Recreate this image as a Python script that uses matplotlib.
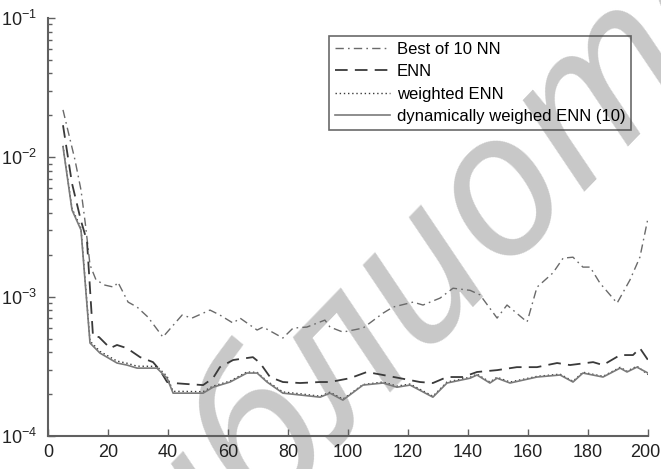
import numpy as np
import matplotlib
matplotlib.use("Agg")
import matplotlib.pyplot as plt
from matplotlib.transforms import ScaledTranslation

plt.rcParams["font.family"] = ["Liberation Sans", "DejaVu Sans"]
plt.rcParams["mathtext.default"] = "regular"

# Best of 10 NN
x_best = [5, 7, 9, 11, 12.5, 14, 16, 19, 22, 23.3, 26.7, 29.7, 33.3, 38.3, 44.7, 48, 54,
          57.3, 61.7, 64, 69.7, 71.7, 78.3, 81.7, 86.3, 92.3, 94, 98.3, 105, 111.7, 115,
          121.7, 125, 130.7, 135, 140.7, 144, 149.7, 153, 159.7, 163, 168.3, 171.7, 175,
          178.3, 180.7, 184, 189.7, 194, 197.3, 200]
y_best = [0.0219, 0.01445, 0.00957, 0.00582, 0.00327, 0.00169, 0.00132, 0.00121, 0.00117,
          0.00127, 0.000914, 0.000842, 0.000714, 0.000513, 0.000738, 0.000702, 0.000801,
          0.000738, 0.000646, 0.000702, 0.000576, 0.000605, 0.000505, 0.000595, 0.000605,
          0.000679, 0.000605, 0.000557, 0.000595, 0.000762, 0.000842, 0.000914, 0.000871,
          0.000977, 0.00115, 0.00111, 0.00103, 0.000702, 0.000871, 0.000658, 0.00117,
          0.00148, 0.00189, 0.00192, 0.00163, 0.00163, 0.00125, 0.000899, 0.00132, 0.00192,
          0.00366]

# ENN
x_enn = [5, 8, 11, 13, 15, 17, 20.7, 23, 26.3, 30.7, 35, 37.3, 39.7, 41.7, 46.3, 51.7, 55,
         57.3, 61.7, 68.3, 70.7, 74, 78.3, 84, 90.7, 94, 100.7, 106.3, 111.7, 117.3, 124,
         128.3, 133, 138.3, 143, 149.7, 156.3, 163, 169.7, 174, 181.7, 185, 190.7, 195,
         197.3, 200]
y_enn = [0.017, 0.0065, 0.0035, 0.0025, 0.00052, 0.000513, 0.000427, 0.00045, 0.000427,
         0.000368, 0.000339, 0.000297, 0.000244, 0.00024, 0.000236, 0.000232, 0.00026,
         0.000312, 0.000351, 0.000368, 0.000334, 0.000265, 0.000244, 0.00024, 0.000244,
         0.000244, 0.00026, 0.000288, 0.000274, 0.00026, 0.000244, 0.00024, 0.000265,
         0.000265, 0.000288, 0.000297, 0.000312, 0.000312, 0.000334, 0.000323, 0.000339,
         0.000323, 0.000381, 0.000381, 0.000427, 0.000351]

# weighted ENN
x_wenn = [5, 8, 11, 14, 17.3, 23, 26.3, 29.7, 36.3, 39.7, 41.7, 45, 51.7, 55, 60.7, 66.3,
          69.7, 73, 78.3, 84, 90.7, 94, 98.3, 105, 111.7, 116.3, 120.7, 128.3, 133, 140.7,
          143, 147.3, 149.7, 154, 163, 170.7, 175, 178.3, 185, 190.7, 193, 196.3, 200]
y_wenn = [0.0121, 0.0043, 0.0031, 0.00048, 0.000405, 0.000345, 0.000333, 0.000317,
          0.000316, 0.000268, 0.000209, 0.000209, 0.000208, 0.000228, 0.000248, 0.000288,
          0.000286, 0.000248, 0.000207, 0.000201, 0.000193, 0.000206, 0.000184, 0.000234,
          0.000244, 0.000228, 0.000236, 0.000193, 0.000244, 0.000264, 0.000278, 0.000244,
          0.000264, 0.000244, 0.000268, 0.000278, 0.000247, 0.000287, 0.000268, 0.000311,
          0.000292, 0.000317, 0.000276]

# dynamically weighed ENN (10)
x_dyn = [5, 8, 11, 14, 17.3, 23, 26.3, 29.7, 36.3, 39.7, 41.7, 45, 51.7, 55, 60.7, 66.3,
         69.7, 73, 78.3, 84, 90.7, 94, 98.3, 105, 111.7, 116.3, 120.7, 128.3, 133, 140.7,
         143, 147.3, 149.7, 154, 163, 170.7, 175, 178.3, 185, 190.7, 193, 196.3, 200]
y_dyn = [0.0119, 0.00419, 0.00301, 0.000465, 0.000394, 0.000334, 0.000323, 0.000307,
         0.000307, 0.00026, 0.000203, 0.000203, 0.000203, 0.000224, 0.000244, 0.000283,
         0.000283, 0.000244, 0.000203, 0.000197, 0.00019, 0.000203, 0.000181, 0.000232,
         0.00024, 0.000224, 0.000232, 0.00019, 0.00024, 0.00026, 0.000274, 0.00024,
         0.00026, 0.00024, 0.000265, 0.000274, 0.000244, 0.000283, 0.000265, 0.000307,
         0.000288, 0.000312, 0.000283]

labels = ["Best of 10 NN", "ENN", "weighted ENN", "dynamically weighed ENN (10)"]
x_ticks = [0, 20, 40, 60, 80, 100, 120, 140, 160, 180, 200]

fig = plt.figure(figsize=(6.61, 4.69), dpi=100)
ax = fig.add_axes([48 / 661, 33 / 469, 600 / 661, 418 / 469])

ax.plot(x_best, y_best, color="#6a6a6a", lw=1.0, dashes=(6, 3, 1.2, 3), label=labels[0])
ax.plot(x_enn, y_enn, color="#3a3a3a", lw=1.3, dashes=(7, 4), label=labels[1])
ax.plot(x_wenn, y_wenn, color="#3a3a3a", lw=1.0, dashes=(1, 2), label=labels[2])
ax.plot(x_dyn, y_dyn, color="#7a7a7a", lw=1.2, label=labels[3])

ax.set_yscale("log")
ax.set_ylim(1e-4, 1e-1)
ax.set_xlim(0, 200)
ax.set_xticks(x_ticks)

for side in ["top", "right"]:
    ax.spines[side].set_visible(False)
for side in ["left", "bottom"]:
    ax.spines[side].set_color("#606060")
    ax.spines[side].set_linewidth(1.5)

ax.tick_params(which="both", direction="in", colors="#606060", labelcolor="#222222",
               labelsize=13, width=1.0)
ax.tick_params(which="major", length=5)
ax.tick_params(which="minor", length=3)
ax.tick_params(axis="y", pad=8)
ax.tick_params(axis="x", pad=6)
# nudge the last x label so it stays inside the canvas
last = ax.get_xticklabels()[-1]
last.set_transform(last.get_transform() + ScaledTranslation(-3 / 100, 0, fig.dpi_scale_trans))

leg = ax.legend(loc="upper right", bbox_to_anchor=(0.972, 0.957), borderaxespad=0,
                fancybox=False, fontsize=12, handlelength=3.3, handletextpad=0.4,
                labelspacing=0.45, borderpad=0.35)
leg.get_frame().set_edgecolor("#444444")
leg.get_frame().set_linewidth(1.2)
leg.get_frame().set_facecolor("none")

# watermark across the plot
ax.text(0.775, 0.455, "библиотека", transform=fig.transFigure, rotation=46,
        rotation_mode="anchor", ha="center", va="baseline", fontsize=146,
        color="#c8c8c8", family="Noto Sans", style="italic", zorder=0.5,
        clip_on=False)

fig.savefig("out.png", dpi=100)
